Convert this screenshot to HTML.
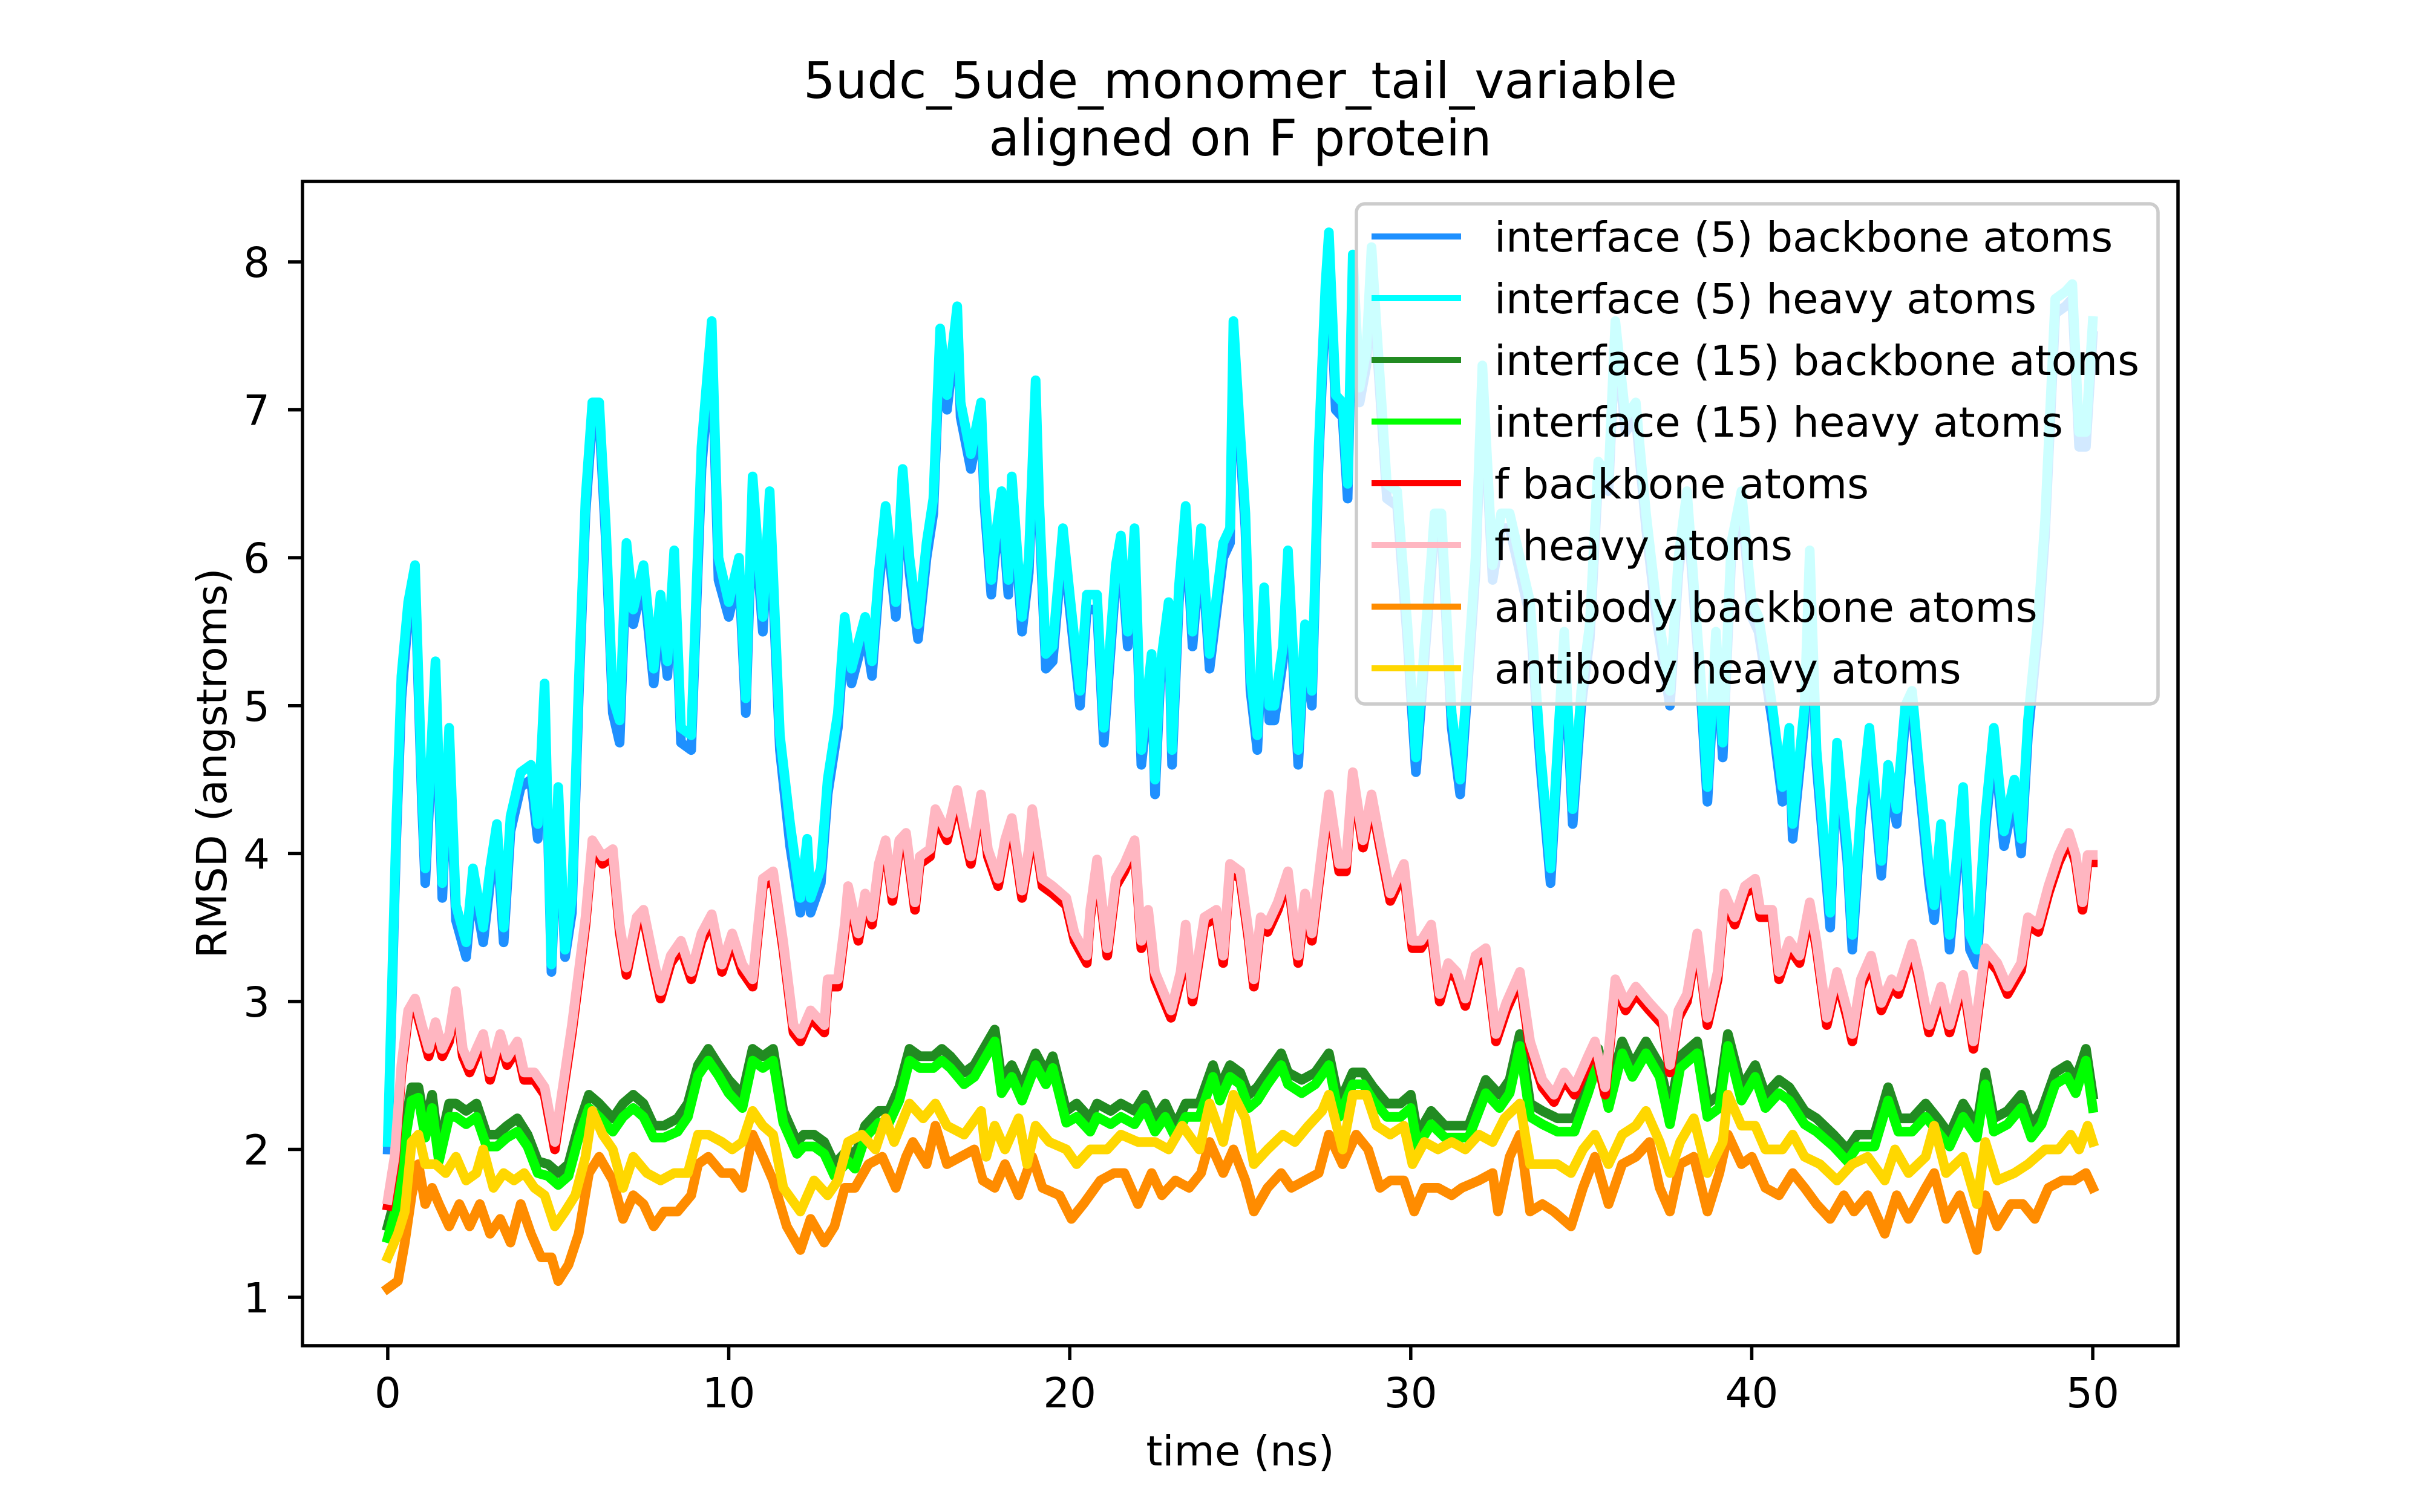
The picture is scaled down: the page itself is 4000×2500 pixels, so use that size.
<!DOCTYPE html>
<html><head><meta charset="utf-8"><style>
html,body{margin:0;padding:0;background:#fff;}
svg{display:block;font-family:"DejaVu Sans","Liberation Sans",sans-serif;}
</style></head><body>
<svg id="chart" width="4000" height="2500" viewBox="0 0 4000 2500" xmlns="http://www.w3.org/2000/svg">
<rect x="0" y="0" width="4000" height="2500" fill="#fff"/>
<text x="2050" y="162" font-size="83" text-anchor="middle">5udc_5ude_monomer_tail_variable</text>
<text x="2050" y="257" font-size="83" text-anchor="middle">aligned on F protein</text>
<defs><clipPath id="plotclip"><rect x="500" y="300" width="3100" height="1925"/></clipPath></defs>
<g id="series" clip-path="url(#plotclip)"></g>
<g id="axes"></g>
<text x="2050" y="2423" font-size="69" text-anchor="middle">time (ns)</text>
<text transform="translate(374,1262) rotate(-90)" font-size="69" text-anchor="middle">RMSD (angstroms)</text>
<g id="legend"></g>
</svg>
<script>
const xTicks=[0,10,20,30,40,50];
const yTicks=[1,2,3,4,5,6,7,8];
const seriesNames=["interface (5) backbone atoms","interface (5) heavy atoms","interface (15) backbone atoms","interface (15) heavy atoms","f backbone atoms","f heavy atoms","antibody backbone atoms","antibody heavy atoms"];
const seriesColors=["#1e90ff","#00ffff","#228b22","#00ff00","#ff0000","#ffb6c1","#ff8c00","#ffd700"];

const cyanT=[0,.25,.4,.6,.8,1,1.1,1.4,1.6,1.8,2,2.3,2.5,2.8,3,3.2,3.4,3.6,3.9,4.2,4.4,4.6,4.8,5,5.2,5.4,5.6,5.8,6,6.2,6.4,6.6,6.8,7,7.2,7.5,7.8,8,8.2,8.4,8.6,8.9,9.2,9.5,9.7,10,10.3,10.5,10.7,11,11.2,11.5,11.8,12.1,12.3,12.4,12.7,12.9,13.2,13.4,13.6,14,14.2,14.4,14.6,14.9,15.1,15.3,15.55,15.8,16,16.2,16.4,16.7,16.8,17.1,17.4,17.5,17.7,17.8,18,18.2,18.3,18.6,18.8,19,19.1,19.3,19.5,19.8,20,20.3,20.5,20.8,21,21.35,21.5,21.7,21.9,22.1,22.4,22.5,22.65,22.9,23,23.2,23.4,23.6,23.85,24.1,24.5,24.7,24.8,24.97,25.15,25.3,25.5,25.7,25.85,26,26.25,26.4,26.7,26.9,27.1,27.3,27.5,27.6,27.8,28,28.15,28.3,28.5,28.7,28.85,29,29.3,29.6,29.9,30.15,30.4,30.7,30.9,31.2,31.45,31.6,31.9,32.1,32.4,32.65,32.9,33.2,33.5,33.8,34.1,34.5,34.75,35,35.25,35.5,35.8,36,36.3,36.6,36.9,37.2,37.6,37.85,38.1,38.5,38.7,38.95,39.15,39.4,39.7,40,40.2,40.6,40.9,41.1,41.2,41.55,41.7,41.9,42.3,42.5,42.8,42.95,43.2,43.45,43.8,44,44.25,44.5,44.7,44.9,45.2,45.35,45.55,45.8,46.2,46.4,46.6,46.85,47.1,47.4,47.7,47.9,48.1,48.4,48.6,48.9,49.2,49.4,49.6,49.8,50];
const cyanV=[2.05,4.2,5.2,5.7,5.95,4.45,3.9,5.3,3.8,4.85,3.65,3.4,3.9,3.5,3.9,4.2,3.5,4.25,4.55,4.6,4.2,5.15,3.25,4.45,3.35,3.7,5.15,6.4,7.05,7.05,6.2,5.05,4.9,6.1,5.65,5.95,5.25,5.75,5.3,6.05,4.85,4.8,6.75,7.6,6.0,5.7,6.0,5.05,6.55,5.6,6.45,4.8,4.2,3.7,4.1,3.7,3.9,4.5,4.95,5.6,5.25,5.6,5.3,5.9,6.35,5.7,6.6,6.0,5.55,6.1,6.4,7.55,7.1,7.7,7.05,6.7,7.05,6.45,5.85,6.1,6.45,5.85,6.55,5.6,6.0,7.2,6.4,5.35,5.4,6.2,5.75,5.1,5.75,5.75,4.85,5.95,6.15,5.5,6.2,4.7,5.35,4.5,5.25,5.7,4.7,5.8,6.35,5.5,6.2,5.35,6.1,6.2,7.6,6.95,6.3,5.2,4.8,5.8,5.0,5.0,5.4,6.05,4.7,5.55,5.1,6.75,7.85,8.2,7.1,7.05,6.5,8.05,7.15,7.4,8.1,7.55,6.5,6.45,5.55,4.65,5.4,6.3,6.3,4.95,4.5,5.0,6.0,7.3,5.95,6.3,6.3,6.0,5.7,4.7,3.9,5.5,4.3,5.1,5.55,6.65,6.55,7.6,6.95,7.05,6.3,5.7,5.1,6.0,6.45,5.2,4.45,5.5,4.75,6.1,6.45,5.7,5.6,5.0,4.45,4.85,4.2,5.0,6.05,4.7,3.6,4.75,4.05,3.45,4.3,4.85,3.95,4.6,4.3,5.0,5.1,4.6,3.9,3.65,4.2,3.45,4.45,3.45,3.35,4.25,4.85,4.15,4.5,4.1,4.9,5.6,6.25,7.75,7.8,7.85,6.85,6.85,7.6];
const blueV=[2.0,4.1,5.05,5.6,5.85,4.35,3.8,5.15,3.7,4.75,3.55,3.3,3.8,3.4,3.8,4.1,3.4,4.15,4.45,4.5,4.1,5.05,3.2,4.35,3.3,3.6,5.05,6.3,6.95,6.95,6.1,4.95,4.75,6.0,5.55,5.85,5.15,5.65,5.2,5.95,4.75,4.7,6.6,7.45,5.85,5.6,5.9,4.95,6.4,5.5,6.3,4.7,4.05,3.6,4.0,3.6,3.8,4.4,4.85,5.5,5.15,5.5,5.2,5.8,6.25,5.6,6.5,5.9,5.45,6.0,6.3,7.45,7.0,7.6,6.95,6.6,6.95,6.35,5.75,6.0,6.35,5.75,6.45,5.5,5.9,7.1,6.3,5.25,5.3,6.1,5.65,5.0,5.65,5.65,4.75,5.85,6.05,5.4,6.1,4.6,5.25,4.4,5.15,5.6,4.6,5.7,6.25,5.4,6.1,5.25,6.0,6.1,7.5,6.85,6.2,5.1,4.7,5.7,4.9,4.9,5.3,5.95,4.6,5.45,5.0,6.65,7.75,8.1,7.0,6.95,6.4,7.95,7.05,7.3,8.0,7.45,6.4,6.35,5.45,4.55,5.3,6.2,6.2,4.85,4.4,4.9,5.9,7.2,5.85,6.2,6.2,5.9,5.6,4.6,3.8,5.4,4.2,5.0,5.45,6.55,6.45,7.5,6.85,6.95,6.2,5.6,5.0,5.9,6.35,5.1,4.35,5.4,4.65,6.0,6.35,5.6,5.5,4.9,4.35,4.75,4.1,4.9,5.95,4.6,3.5,4.65,3.95,3.35,4.2,4.75,3.85,4.5,4.2,4.9,5.0,4.5,3.8,3.55,4.1,3.35,4.35,3.35,3.25,4.15,4.75,4.05,4.4,4.0,4.8,5.5,6.15,7.65,7.7,7.75,6.75,6.75,7.5];

const fT=[0,.2,.4,.6,.8,1,1.2,1.4,1.6,1.8,2,2.2,2.4,2.6,2.8,3,3.3,3.5,3.8,4,4.3,4.6,4.9,5.1,5.4,5.6,5.8,6,6.3,6.6,6.8,7,7.3,7.5,7.8,8,8.3,8.6,8.9,9.2,9.5,9.8,10.1,10.4,10.7,11,11.3,11.6,11.9,12.1,12.4,12.8,12.9,13.2,13.4,13.5,13.8,14,14.2,14.4,14.6,14.8,15,15.2,15.46,15.6,15.9,16.06,16.4,16.7,16.9,17.1,17.4,17.6,17.9,18.1,18.3,18.6,18.8,18.9,19.2,19.5,19.9,20.14,20.5,20.6,20.8,21.1,21.35,21.6,21.9,22.1,22.3,22.5,22.97,23.25,23.4,23.6,23.95,24.3,24.5,24.7,25,25.25,25.4,25.6,25.8,26.1,26.4,26.7,26.9,27.1,27.4,27.6,27.9,28.1,28.3,28.6,28.85,29.1,29.4,29.8,30.05,30.3,30.6,30.85,31.1,31.35,31.6,31.9,32.2,32.5,32.8,33.2,33.5,33.86,34.2,34.5,34.8,35.2,35.4,35.7,36,36.3,36.6,37,37.4,37.6,37.85,38.1,38.4,38.7,39,39.2,39.5,39.8,40.1,40.25,40.6,40.8,41.1,41.4,41.7,41.9,42.2,42.5,42.8,42.95,43.2,43.5,43.8,44.1,44.3,44.7,44.9,45.2,45.55,45.8,46.2,46.5,46.85,47.2,47.5,47.9,48.1,48.4,48.7,49,49.3,49.5,49.7,49.85,50];
const pinkV=[1.66,1.95,2.57,2.94,3.02,2.84,2.68,2.86,2.68,2.78,3.07,2.68,2.57,2.68,2.78,2.52,2.78,2.62,2.73,2.52,2.52,2.42,2.05,2.37,2.84,3.2,3.57,4.09,3.98,4.03,3.52,3.23,3.57,3.62,3.28,3.07,3.31,3.41,3.2,3.46,3.59,3.25,3.46,3.25,3.15,3.83,3.88,3.4,2.84,2.78,2.94,2.84,3.15,3.15,3.52,3.78,3.46,3.73,3.57,3.93,4.09,3.73,4.09,4.14,3.67,3.98,4.03,4.3,4.14,4.43,4.19,3.98,4.4,4.03,3.83,4.09,4.24,3.75,4.03,4.3,3.83,3.78,3.7,3.46,3.31,3.62,3.96,3.36,3.83,3.93,4.09,3.41,3.62,3.2,2.94,3.2,3.52,3.05,3.57,3.62,3.31,3.93,3.88,3.46,3.15,3.57,3.52,3.67,3.88,3.31,3.73,3.46,4.03,4.4,3.93,3.93,4.55,4.09,4.4,4.09,3.73,3.93,3.41,3.41,3.52,3.05,3.26,3.2,3.02,3.31,3.36,2.78,2.99,3.2,2.73,2.47,2.37,2.52,2.42,2.63,2.73,2.42,3.15,2.99,3.1,2.99,2.89,2.57,2.94,3.05,3.46,2.89,3.2,3.73,3.57,3.78,3.83,3.62,3.62,3.2,3.41,3.31,3.67,3.41,2.89,3.2,2.94,2.78,3.15,3.31,2.99,3.15,3.1,3.39,3.2,2.84,3.1,2.84,3.18,2.73,3.36,3.26,3.1,3.26,3.57,3.52,3.78,3.99,4.14,3.99,3.67,3.99,3.99];
const redV=[1.62,1.9,2.52,2.9,2.97,2.8,2.63,2.81,2.63,2.73,3.02,2.63,2.52,2.63,2.73,2.47,2.73,2.57,2.68,2.47,2.47,2.37,2.0,2.32,2.79,3.15,3.52,4.04,3.93,3.98,3.47,3.18,3.52,3.57,3.23,3.02,3.26,3.36,3.15,3.41,3.54,3.2,3.41,3.2,3.1,3.78,3.83,3.35,2.79,2.73,2.89,2.79,3.1,3.1,3.47,3.73,3.41,3.68,3.52,3.88,4.04,3.68,4.04,4.09,3.62,3.93,3.98,4.25,4.09,4.38,4.14,3.93,4.35,3.98,3.78,4.04,4.19,3.7,3.98,4.25,3.78,3.73,3.65,3.41,3.26,3.57,3.91,3.31,3.78,3.88,4.04,3.36,3.57,3.15,2.89,3.15,3.47,3.0,3.52,3.57,3.26,3.88,3.83,3.41,3.1,3.52,3.47,3.62,3.83,3.26,3.68,3.41,3.98,4.35,3.88,3.88,4.5,4.04,4.35,4.04,3.68,3.88,3.36,3.36,3.47,3.0,3.21,3.15,2.97,3.26,3.31,2.73,2.94,3.15,2.68,2.42,2.32,2.47,2.37,2.58,2.68,2.37,3.1,2.94,3.05,2.94,2.84,2.52,2.89,3.0,3.41,2.84,3.15,3.68,3.52,3.73,3.78,3.57,3.57,3.15,3.36,3.26,3.62,3.36,2.84,3.15,2.89,2.73,3.1,3.26,2.94,3.1,3.05,3.34,3.15,2.79,3.05,2.79,3.13,2.68,3.31,3.21,3.05,3.21,3.52,3.47,3.73,3.94,4.09,3.94,3.62,3.94,3.94];

const i15T=[0,.3,.5,.7,.9,1.1,1.3,1.5,1.8,2,2.3,2.6,2.9,3.2,3.5,3.8,4.1,4.4,4.7,5,5.3,5.6,5.9,6.2,6.6,6.9,7.2,7.5,7.8,8.1,8.5,8.8,9.1,9.4,9.7,10,10.4,10.7,11,11.3,11.6,12,12.2,12.5,12.8,13.1,13.5,13.7,14,14.4,14.7,15,15.3,15.6,16,16.25,16.5,16.9,17.2,17.4,17.8,18,18.3,18.6,19,19.3,19.5,19.9,20.2,20.6,20.8,21.2,21.5,21.9,22.2,22.5,22.8,23.1,23.4,23.8,24.2,24.4,24.7,25,25.25,25.5,25.8,26.2,26.4,26.8,27.2,27.6,27.9,28.3,28.6,28.9,29.3,29.7,30,30.2,30.6,31,31.35,31.7,32.2,32.6,32.9,33.2,33.5,33.86,34.3,34.8,35.2,35.5,35.8,36.2,36.5,36.9,37.3,37.6,37.9,38.4,38.7,39.05,39.3,39.7,40.1,40.4,40.8,41.1,41.55,41.9,42.4,42.8,43.1,43.6,44,44.3,44.7,45.1,45.45,45.8,46.2,46.6,46.85,47.1,47.5,47.9,48.2,48.5,48.9,49.25,49.5,49.8,50];
const i15BackboneV=[1.48,1.74,2.16,2.42,2.42,2.16,2.37,2.0,2.31,2.31,2.26,2.31,2.1,2.1,2.16,2.21,2.1,1.92,1.9,1.84,1.9,2.16,2.37,2.31,2.21,2.31,2.37,2.31,2.16,2.16,2.21,2.31,2.57,2.68,2.57,2.47,2.37,2.68,2.63,2.68,2.26,2.05,2.1,2.1,2.05,1.9,2.0,1.95,2.16,2.26,2.26,2.42,2.68,2.63,2.63,2.68,2.63,2.52,2.57,2.65,2.81,2.47,2.57,2.42,2.65,2.52,2.63,2.26,2.31,2.21,2.31,2.26,2.31,2.26,2.37,2.21,2.31,2.16,2.31,2.31,2.57,2.42,2.57,2.52,2.37,2.42,2.52,2.65,2.52,2.47,2.52,2.65,2.31,2.52,2.52,2.42,2.31,2.31,2.37,2.1,2.26,2.16,2.16,2.16,2.47,2.37,2.47,2.78,2.31,2.26,2.21,2.21,2.47,2.68,2.37,2.73,2.57,2.73,2.57,2.26,2.63,2.73,2.31,2.37,2.78,2.42,2.57,2.37,2.47,2.42,2.26,2.21,2.1,2.0,2.1,2.1,2.42,2.21,2.21,2.31,2.21,2.1,2.31,2.16,2.52,2.21,2.26,2.37,2.16,2.26,2.52,2.57,2.47,2.68,2.37];
const i15HeavyV=[1.4,1.65,2.05,2.33,2.35,2.08,2.28,1.92,2.22,2.22,2.17,2.22,2.02,2.02,2.08,2.12,2.02,1.84,1.82,1.76,1.82,2.08,2.28,2.22,2.12,2.22,2.28,2.22,2.08,2.08,2.12,2.22,2.5,2.6,2.5,2.38,2.28,2.6,2.55,2.6,2.18,1.97,2.02,2.02,1.97,1.82,1.92,1.87,2.08,2.18,2.18,2.33,2.6,2.55,2.55,2.6,2.55,2.44,2.49,2.57,2.73,2.38,2.49,2.33,2.57,2.44,2.55,2.18,2.22,2.12,2.22,2.17,2.22,2.17,2.28,2.12,2.22,2.08,2.22,2.22,2.49,2.33,2.49,2.44,2.28,2.33,2.44,2.57,2.44,2.38,2.44,2.57,2.22,2.44,2.44,2.33,2.22,2.22,2.28,2.02,2.17,2.08,2.08,2.08,2.38,2.28,2.38,2.7,2.22,2.17,2.12,2.12,2.38,2.6,2.28,2.65,2.49,2.65,2.49,2.17,2.55,2.65,2.22,2.28,2.7,2.33,2.49,2.28,2.38,2.33,2.17,2.12,2.02,1.92,2.02,2.02,2.33,2.12,2.12,2.22,2.12,2.02,2.22,2.08,2.44,2.12,2.17,2.28,2.08,2.17,2.44,2.49,2.38,2.6,2.28];

const abBackboneT=[0,.3,.5,.7,.9,1.1,1.3,1.5,1.8,2.1,2.4,2.7,3,3.3,3.6,3.9,4.2,4.5,4.8,5,5.3,5.6,5.9,6.2,6.6,6.9,7.2,7.5,7.8,8.1,8.5,8.9,9.1,9.4,9.8,10.1,10.4,10.7,11,11.3,11.7,12.1,12.4,12.8,13.1,13.4,13.7,14.1,14.5,14.9,15.2,15.4,15.8,16.06,16.4,16.8,17.2,17.45,17.8,18.1,18.5,18.9,19.2,19.7,20.05,20.4,20.9,21.3,21.6,22,22.4,22.7,23.1,23.5,23.85,24.1,24.5,24.8,25.15,25.4,25.8,26.2,26.5,26.9,27.3,27.6,28,28.4,28.75,29.1,29.4,29.8,30.1,30.4,30.8,31.2,31.5,32,32.4,32.56,32.9,33.2,33.5,33.86,34.2,34.7,35.05,35.4,35.8,36.2,36.6,37,37.3,37.6,37.9,38.3,38.7,39.05,39.3,39.7,40,40.4,40.8,41.2,41.55,41.9,42.3,42.7,43,43.4,43.9,44.25,44.6,45.1,45.35,45.7,46.1,46.6,46.85,47.2,47.6,47.95,48.3,48.7,49.1,49.45,49.8,50];
const abBackboneV=[1.06,1.11,1.37,1.69,1.9,1.63,1.74,1.63,1.48,1.63,1.48,1.63,1.43,1.53,1.37,1.63,1.43,1.27,1.27,1.11,1.22,1.43,1.84,1.95,1.79,1.53,1.69,1.63,1.48,1.58,1.58,1.69,1.9,1.95,1.84,1.84,1.74,2.1,1.95,1.79,1.48,1.32,1.53,1.37,1.48,1.74,1.74,1.9,1.95,1.74,1.95,2.05,1.9,2.16,1.9,1.95,2.0,1.79,1.74,1.9,1.69,1.95,1.74,1.69,1.53,1.63,1.79,1.84,1.84,1.63,1.84,1.69,1.79,1.74,1.84,2.05,1.84,2.0,1.79,1.58,1.74,1.84,1.74,1.79,1.84,2.1,1.9,2.1,2.0,1.74,1.79,1.79,1.58,1.74,1.74,1.69,1.74,1.79,1.84,1.58,1.95,2.1,1.58,1.63,1.58,1.48,1.74,1.95,1.63,1.9,1.95,2.05,1.74,1.58,1.9,1.95,1.58,1.84,2.1,1.9,1.95,1.74,1.69,1.84,1.74,1.63,1.53,1.69,1.58,1.69,1.43,1.69,1.53,1.74,1.84,1.53,1.69,1.32,1.69,1.48,1.63,1.63,1.53,1.74,1.79,1.79,1.84,1.74];

const abHeavyT=[0,.3,.5,.7,.9,1.1,1.4,1.7,2,2.3,2.6,2.8,3.1,3.4,3.7,4,4.3,4.6,4.9,5.2,5.5,5.8,6,6.3,6.6,6.9,7.2,7.6,8,8.4,8.8,9.1,9.4,9.8,10.1,10.4,10.7,11,11.3,11.6,12.1,12.5,12.9,13.2,13.5,13.9,14.3,14.6,14.85,15.3,15.7,16.06,16.4,16.9,17.4,17.55,17.8,18.1,18.5,18.75,19,19.4,19.9,20.2,20.6,21.1,21.5,22,22.5,22.9,23.3,23.8,24.1,24.5,24.8,25.15,25.4,25.8,26.25,26.6,27,27.4,27.6,28,28.3,28.7,29,29.4,29.8,30.05,30.4,30.8,31.2,31.6,32,32.4,32.75,33.2,33.5,33.86,34.3,34.7,35.05,35.4,35.8,36.2,36.6,36.9,37.3,37.6,37.9,38.3,38.7,39.15,39.3,39.7,40.1,40.4,40.9,41.2,41.55,42,42.5,42.95,43.4,43.9,44.2,44.6,45.1,45.35,45.7,46.2,46.6,46.85,47.2,47.7,48.1,48.6,49,49.35,49.6,49.85,50];
const abHeavyV=[1.27,1.43,1.58,2.05,2.1,1.9,1.9,1.84,1.95,1.79,1.84,2.0,1.74,1.84,1.79,1.84,1.74,1.69,1.48,1.58,1.69,1.95,2.26,2.1,2.0,1.74,1.95,1.84,1.79,1.84,1.84,2.1,2.1,2.05,2.0,2.05,2.26,2.16,2.1,1.74,1.58,1.79,1.69,1.79,2.05,2.1,2.0,2.21,2.05,2.31,2.21,2.31,2.16,2.1,2.26,1.95,2.16,2.0,2.21,1.9,2.16,2.05,2.0,1.9,2.0,2.0,2.1,2.05,2.05,2.0,2.16,2.0,2.31,2.05,2.37,2.21,1.9,2.0,2.1,2.05,2.16,2.26,2.37,2.0,2.37,2.37,2.16,2.1,2.16,1.9,2.05,2.0,2.05,2.0,2.1,2.05,2.21,2.31,1.9,1.9,1.9,1.84,2.0,2.1,1.9,2.1,2.16,2.26,2.05,1.84,2.05,2.21,1.84,2.05,2.37,2.16,2.16,2.0,2.0,2.1,1.95,1.9,1.79,1.9,1.95,1.79,2.0,1.84,1.95,2.16,1.84,1.95,1.63,2.05,1.79,1.84,1.9,2.0,2.0,2.1,2.0,2.16,2.05];

const NS="http://www.w3.org/2000/svg";
const PX0=500,PX1=3600,PY0=300,PY1=2225;
const XMIN=-2.5,XMAX=52.5,YMIN=0.673,YMAX=8.544;
function xs(v){return PX0+(v-XMIN)/(XMAX-XMIN)*(PX1-PX0);}
function ys(v){return PY1-(v-YMIN)/(YMAX-YMIN)*(PY1-PY0);}
function mk(tag,attrs,parent){const e=document.createElementNS(NS,tag);for(const k in attrs)e.setAttribute(k,attrs[k]);parent.appendChild(e);return e;}

const seriesT=[cyanT,cyanT,i15T,i15T,fT,fT,abBackboneT,abHeavyT];
const seriesV=[blueV,cyanV,i15BackboneV,i15HeavyV,redV,pinkV,abBackboneV,abHeavyV];
const seriesKeys=["interface-5-backbone-line","interface-5-heavy-line","interface-15-backbone-line","interface-15-heavy-line","f-backbone-line","f-heavy-line","antibody-backbone-line","antibody-heavy-line"];

const gS=document.getElementById("series");
for(let s=0;s<seriesV.length;s++){
  const t=seriesT[s],v=seriesV[s];const n=Math.min(t.length,v.length);
  let d="";
  for(let i=0;i<n;i++){d+=(i?"L":"M")+xs(t[i]).toFixed(1)+","+ys(v[i]).toFixed(1);}
  const p=mk("path",{d:d,fill:"none",stroke:seriesColors[s],"stroke-width":"16","stroke-linejoin":"round","stroke-linecap":"square"},gS);
  
  
}

const gA=document.getElementById("axes");
for(const t of xTicks){
  const X=xs(t);
  const tk=mk("line",{x1:X,y1:PY1,x2:X,y2:PY1+24,stroke:"#000","stroke-width":"5.5"},gA);
  
  
  const lb=mk("text",{x:X,y:2327,"font-size":"69","text-anchor":"middle"},gA);
  lb.textContent=String(t);
  
  
}
for(const t of yTicks){
  const Y=ys(t);
  const tk=mk("line",{x1:PX0-24,y1:Y,x2:PX0,y2:Y,stroke:"#000","stroke-width":"5.5"},gA);
  
  
  const lb=mk("text",{x:446,y:Y+25,"font-size":"69","text-anchor":"end"},gA);
  lb.textContent=String(t);
  
  
}
const frame=mk("rect",{x:PX0,y:PY0,width:PX1-PX0,height:PY1-PY0,fill:"none",stroke:"#000","stroke-width":"5.5"},gA);



const gL=document.getElementById("legend");
const box=mk("rect",{x:2242,y:337,width:1325,height:827,rx:14,ry:14,fill:"#fff","fill-opacity":"0.8",stroke:"#cccccc","stroke-width":"5.5"},gL);


for(let s=0;s<seriesNames.length;s++){
  const cy=391+102*s;
  const ln=mk("line",{x1:2267,y1:cy,x2:2415,y2:cy,stroke:seriesColors[s],"stroke-width":"10"},gL);
  
  
  const tx=mk("text",{x:2470,y:cy+25,"font-size":"69"},gL);
  tx.textContent=seriesNames[s];
  
  
}
</script>
</body></html>
